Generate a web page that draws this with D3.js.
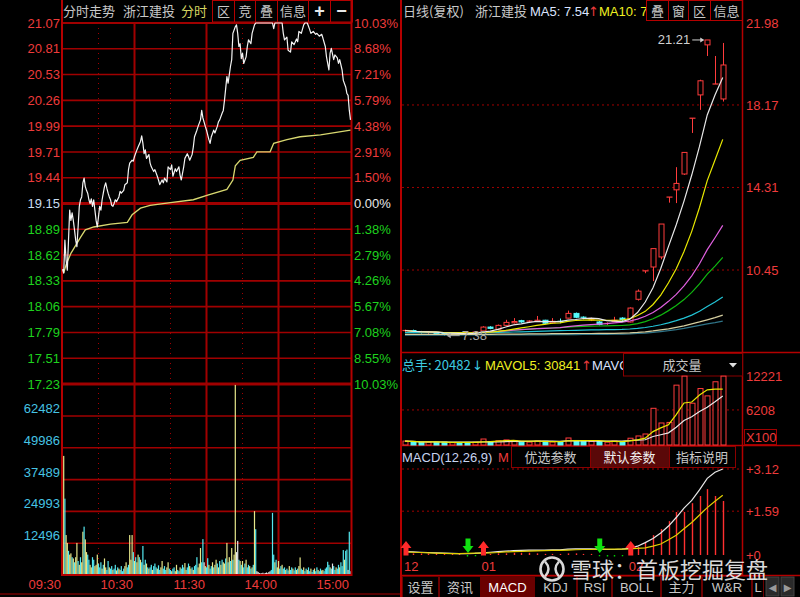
<!DOCTYPE html>
<html><head><meta charset="utf-8">
<script src="https://d3js.org/d3.v7.min.js"></script>
<style>html,body{margin:0;padding:0;background:#000;overflow:hidden}svg{display:block}</style>
</head><body>
<svg id="chart" width="800" height="597"></svg>
<script>
// ================= DATA =================
const stockName = "浙江建投";
// intraday axis ticks
const priceTicks = [21.07,20.81,20.53,20.26,19.99,19.71,19.44,19.15,18.89,18.62,18.33,18.06,17.79,17.51,17.23];
const pctTicks = ["10.03%","8.68%","7.21%","5.79%","4.38%","2.91%","1.50%","0.00%","1.38%","2.79%","4.26%","5.67%","7.08%","8.55%","10.03%"];
const volTicks = [12496,24993,37489,49986,62482];
const timeLabels = ["09:30","10:30","11:30","14:00","15:00"];
const timeLabelMinutes = [0,60,120,180,240];
// intraday price (minute index, price)
const intraMin = [
0,1,2,3,4,5,6,7,8,9, 10,11,12,13,14,15,16,17,18,19, 20,21,22,23,24,25,26,27,28,29, 30,31,32,33,34,35,36,37,38,39, 40,41,42,43,44,45,
47,48,49,51,52,54,55,56,58,59, 60,62,63,65,66,67,68,69,70,72, 73,74,76,77,79,80,81,83,84,85, 87,88,90,91,92,94,95,97,98,99,
101,102,104,105,106,108,109,110,112,113, 115,116,117,119,120,122,123,124,126,127, 129,130,131,133,134,135,137,138,140,141,
142,144,145,146,147,148,149,150,151,153, 154,155,157,158,160,161,175,176,177,183, 184,185,187,188,190,191,193,195,196,197,
199,201,202,204,206,207,209,211,212,214, 216,217,219,220,222,223,224,226,227,229, 230,231,233,234,236,237,238,239,240];
const intraPrice = [
18.45,18.41,18.76,18.55,18.44,18.76,19.08,18.97,19.05,18.97, 18.87,18.76,18.69,18.90,19.12,19.19,19.22,19.37,19.42,19.33,
19.29,19.26,19.19,19.15,19.20,19.12,19.19,19.08,18.97,18.90, 19.01,19.12,19.08,19.19,19.26,19.33,19.37,19.31,19.26,19.22,
19.19,19.13,19.12,19.15,19.19,19.17,
19.22,19.28,19.26,19.29,19.35,19.37,19.51,19.58,19.61,19.60, 19.65,19.72,19.75,19.81,19.87,19.79,19.68,19.72,19.63,19.67,
19.58,19.54,19.49,19.51,19.44,19.40,19.35,19.40,19.37,19.42, 19.38,19.54,19.51,19.56,19.44,19.52,19.49,19.54,19.45,19.40,
19.54,19.63,19.68,19.65,19.61,19.67,19.75,19.86,19.93,19.97, 20.04,20.14,20.06,19.97,19.93,19.83,19.79,19.86,19.93,19.90,
19.97,20.02,20.04,20.11,20.14,20.25,20.50,20.43,20.61,20.68, 20.96,21.03,21.05,20.96,20.82,20.85,20.69,20.75,20.64,20.71,
20.82,20.89,20.85,20.96,21.05,21.07,21.07,21.01,21.07,21.07, 20.96,20.89,20.92,20.78,20.76,20.87,20.84,20.90,20.87,20.98,
20.96,21.05,21.07,21.07,21.00,20.96,20.98,20.95,20.96,20.93, 20.95,20.91,20.82,20.71,20.57,20.75,20.80,20.68,20.73,20.70,
20.64,20.68,20.57,20.46,20.39,20.32,20.30,20.14,20.04];
// intraday average price
const avgMin = [1,3,7,15,19,26,40,54,58,65,73,90,109,121,137,142,144,148,159,162,173,176,187,198,215,240];
const avgPrice = [18.41,18.50,18.62,18.79,18.87,18.90,18.93,18.95,19.03,19.10,19.13,19.16,19.19,19.24,19.30,19.40,19.55,19.61,19.64,19.70,19.70,19.79,19.83,19.86,19.88,19.93];
// minute volume (hands), 241 minutes
const minuteVolume = [
12600,46800,30000,15700,12600,9500,8000,8500,7000,6500,
5000,7000,12600,5500,4000,7000,5000,17000,19000,14000,
9000,8000,6000,4000,3000,7000,6000,3500,4000,8000,
4500,3000,5000,2500,4000,6500,3000,2000,5500,3000,
2500,3500,2000,2500,4000,1800,3000,2500,2000,3500,
1500,2500,3500,5000,3000,4000,15700,6000,15700,9000,
5500,7000,5000,8000,7000,6000,5000,11400,4000,6000,
4500,3000,2500,3000,4000,2000,3500,4500,3000,2500,
3800,2000,3000,5500,2500,3500,2000,3000,5000,2500,
2000,1500,2500,3000,1500,4000,2000,1500,3000,2500,
4000,3000,4700,2000,3000,4500,3500,2500,3000,2000,
3500,4000,7000,3000,4500,10600,5000,14100,5000,3500,
3000,6600,4000,2500,3500,5000,3000,4000,6000,4500,
3000,5500,4000,6000,5000,4500,6500,12600,5000,7000,
5500,10600,6000,8000,74700,9000,13400,6000,5500,4000,
5500,3000,4500,6000,3000,4000,3500,2500,3000,4000,
25100,18000,1500,1200,800,600,700,900,600,800,
1000,700,1200,1500,2000,24400,8000,5000,6000,3000,
5500,2500,3500,4000,2500,3000,2000,2500,1800,3500,
2000,3000,2500,1800,3000,2000,2500,3500,6900,2500,
2000,3000,1500,2500,2000,3000,1500,2500,1200,2000,
2500,1500,3000,2000,1500,2500,1800,2000,1500,2500,
3000,5200,4000,3000,2500,4500,3500,2000,3000,2500,
4000,3000,5000,3500,9800,6000,9500,10000,2000,17000,
1500];
// tick direction per minute: u = up, d = down, e = unchanged
const minuteDir = "uuduuduudu duududuudu udduudduuu ddduduuddu ddudduduud dduudduuud uduududdud ududdudddu dduuddduud dudduuddud dduudduudu ddduuuddeu ddudduduud ududuududu duduueedud udduddudud udeeeeeeee eeeedddudu uddudduddu ddudduduud dudduddudd uddudduudd dddudeddud dudddudded d".replace(/ /g,"");

// daily K-line (42 sessions)
const dayOpen  = [7.58,7.62,7.56,7.52,7.54,7.48,7.44,7.50,7.47,7.46, 7.60,7.78,7.68,7.86,7.98,8.08,8.02,8.04,8.10,7.98, 8.05,8.20,8.42,8.24,8.10,8.02,7.92,8.04,8.20, 8.02,9.08,10.41,10.59,11.06,13.86,14.20,14.94,17.55,18.64,20.98,19.15,18.45];
const dayClose = [7.62,7.55,7.52,7.55,7.48,7.44,7.50,7.47,7.45,7.55, 7.78,7.72,7.86,8.00,8.04,8.02,8.06,8.10,7.96,8.05, 8.00,8.42,8.24,8.20,8.12,7.90,7.95,8.10,8.12, 8.67,9.46,10.41,11.45,12.60,13.86,14.50,15.95,17.55,19.30,21.21,19.15,20.04];
const dayHigh  = [7.66,7.66,7.60,7.58,7.56,7.50,7.53,7.54,7.50,7.58, 7.82,7.82,7.90,8.12,8.20,8.12,8.10,8.30,8.12,8.20, 8.18,8.55,8.46,8.28,8.22,8.06,8.00,8.26,8.24, 8.70,9.54,10.41,11.45,12.60,13.86,15.26,15.95,17.55,19.35,21.21,20.46,21.07];
const dayLow   = [7.52,7.50,7.48,7.46,7.42,7.38,7.40,7.44,7.42,7.44, 7.58,7.68,7.66,7.82,7.95,7.98,7.98,8.02,7.92,7.95, 7.96,8.18,8.20,8.14,8.06,7.86,7.88,8.02,8.06, 8.00,9.02,10.30,9.93,10.95,13.60,13.58,14.90,16.86,17.94,20.46,19.15,18.33];
const dayVolume = [700,550,450,500,480,520,420,380,450,500, 1060,600,750,900,800,500,520,700,650,550, 600,1240,800,700,650,600,500,700,600, 1200,1600,1950,6500,3900,4000,10600,12200,7400,10000,8700,11200,12200];
// long moving averages
const ma60  = [7.52,7.52,7.52,7.52,7.52,7.52,7.51,7.51,7.51,7.51, 7.52,7.52,7.53,7.54,7.55,7.56,7.57,7.58,7.59,7.60, 7.61,7.62,7.63,7.64,7.65,7.65,7.66,7.66,7.67, 7.69,7.72,7.76,7.82,7.89,7.98,8.08,8.20,8.34,8.52,8.74,8.95,9.19];
const ma120 = [7.44,7.44,7.44,7.44,7.44,7.44,7.44,7.44,7.44,7.44, 7.44,7.44,7.45,7.45,7.45,7.45,7.46,7.46,7.46,7.47, 7.47,7.47,7.48,7.48,7.48,7.49,7.49,7.49,7.50, 7.51,7.53,7.56,7.60,7.65,7.70,7.77,7.84,7.93,8.02,8.12,8.22,8.34];
const ma250 = [7.40,7.40,7.40,7.40,7.40,7.40,7.40,7.40,7.41,7.41, 7.41,7.41,7.41,7.41,7.42,7.42,7.42,7.42,7.42,7.43, 7.43,7.43,7.43,7.44,7.44,7.44,7.44,7.45,7.45, 7.46,7.48,7.50,7.53,7.57,7.61,7.66,7.72,7.79,7.86,7.93,7.99,8.06];
// MACD(12,26,9)
const difVals  = [0.12,0.11,0.10,0.09,0.08,0.07,0.06,0.05,0.05,0.06, 0.08,0.10,0.12,0.14,0.16,0.17,0.18,0.18,0.18,0.19, 0.19,0.21,0.22,0.22,0.22,0.21,0.20,0.20,0.21, 0.24,0.32,0.45,0.60,0.80,1.05,1.36,1.70,1.98,2.36,2.78,3.00,3.12];
const deaVals  = [0.11,0.10,0.09,0.08,0.07,0.06,0.05,0.05,0.06,0.07, 0.07,0.08,0.09,0.11,0.12,0.13,0.14,0.15,0.16,0.17, 0.17,0.18,0.19,0.20,0.20,0.21,0.21,0.21,0.21, 0.22,0.24,0.26,0.32,0.40,0.55,0.72,0.95,1.18,1.45,1.72,1.95,2.17];
const macdVals = [0.02,0.02,0.02,0.02,0.02,0.02,0.02,0.01,-0.02,-0.01, 0.02,0.04,0.06,0.06,0.08,0.08,0.08,0.06,0.04,0.04, 0.04,0.06,0.06,0.04,0.04,-0.01,-0.02,-0.02,-0.01, 0.08,0.30,0.47,0.72,0.94,1.23,1.56,1.56,1.88,2.14,2.39,2.14,1.96];
const signalIdx  = [0,8,10,25,29];
const signalType = ["buy","sell","buy","sell","buy"];
const monthLabels = ["12","01","02"];
const monthStart  = [0,10,29];
const kTicks = [21.98,18.17,14.31,10.45];
const dVolTicks = [12221,6208];
const macdTicks = [3.12,1.59,0];
const highLabel = 21.21, highIdx = 39;
const lowLabel = 7.38, lowIdx = 5;
const leftButtons = ["区","竞","叠","信息","+","−"];
const rightButtons = ["叠","窗","区","信息"];
const macdButtons = ["优选参数","默认参数","指标说明"];
const bottomTabs = ["设置","资讯","MACD","KDJ","RSI","BOLL","主力","W&R","L"];

// ================= DRAW =================
const svg = d3.select("#chart");
const NUM = "'Liberation Sans', Arial, sans-serif";
const CJK = "'Noto Sans CJK SC', 'Liberation Sans', sans-serif";
const RED = "#ee3b3b", GRID = "#a00000", FRAME = "#b40000", GREEN = "#1ed21e", GREY = "#c8c8c8";
svg.append("rect").attr("width",800).attr("height",597).attr("fill","#000");

function txt(g,x,y,s,fill,size,anchor,family,weight){
  return g.append("text").attr("x",x).attr("y",y).text(s).attr("fill",fill)
   .attr("font-size",size||13).attr("text-anchor",anchor||"start")
   .attr("font-family",family||NUM).attr("font-weight",weight||"normal");
}
function hline(g,x1,x2,y,color,w,dash){
  const l=g.append("line").attr("x1",x1).attr("x2",x2).attr("y1",y).attr("y2",y).attr("stroke",color).attr("stroke-width",w||1);
  if(dash) l.attr("stroke-dasharray",dash); return l;
}
function vline(g,x,y1,y2,color,w,dash){
  const l=g.append("line").attr("x1",x).attr("x2",x).attr("y1",y1).attr("y2",y2).attr("stroke",color).attr("stroke-width",w||1);
  if(dash) l.attr("stroke-dasharray",dash); return l;
}

// ---------- LEFT: intraday ----------
const L = svg.append("g");
const xT = d3.scaleLinear().domain([0,240]).range([62.5,350.5]);
const yP = d3.scaleLinear().domain([17.23,21.07]).range([384,23]);
const yTick = d3.scalePoint().domain(d3.range(priceTicks.length)).range([23,384]);
const yV = d3.scaleLinear().domain([0,62482]).range([575,416]);

// header
txt(L,63,16,"分时走势",GREY,13,"start",CJK);
txt(L,123,16,stockName,GREY,13,"start",CJK);
txt(L,181,16,"分时","#d6d660",13,"start",CJK);
const lbEdges=[212,234,255,277,308,330,352];
leftButtons.forEach((b,i)=>{
  L.append("rect").attr("x",lbEdges[i]+0.5).attr("y",0.5).attr("width",lbEdges[i+1]-lbEdges[i]).attr("height",21.5)
   .attr("fill","none").attr("stroke",FRAME).attr("stroke-width",1);
  const bold = (b==="+"||b==="−");
  txt(L,(lbEdges[i]+lbEdges[i+1])/2+0.5,bold?17:16,b,bold?"#e8e8e8":GREY,bold?18:13,"middle",bold?NUM:CJK,bold?"bold":"normal");
});

// horizontal grid
priceTicks.forEach((p,k)=>{
  const thick = (k===7||k===priceTicks.length-1);
  hline(L,62,352,yTick(k),GRID,thick?3.2:(k===0?2:1.6));
});
volTicks.forEach(v=>hline(L,62,352,yV(v),GRID,1.6));
// vertical grid
[30,60,90,120,150,180,210].forEach(m=>{
  if(m%60===0) vline(L,xT(m),23,575,GRID,2);
  else vline(L,xT(m),23,575,GRID,1,"1,4");
});
// volume bars
const dirColor = {u:"#e6e68a", d:"#55e8f0", e:"#e8e8e8"};
minuteVolume.forEach((v,i)=>{
  L.append("rect").attr("x",xT(i)-0.6).attr("y",yV(v)).attr("width",1.2).attr("height",575-yV(v))
   .attr("fill",dirColor[minuteDir[i]]);
});
// frame
vline(L,62,0,576,FRAME,2);
vline(L,351.5,0,576,FRAME,2);
hline(L,62,352,575,FRAME,2);
hline(L,0,400,594,"#700000",1.5);

// average line & price line
const avgData = avgMin.map((m,i)=>({m,p:avgPrice[i]}));
const prData = intraMin.map((m,i)=>({m,p:intraPrice[i]}));
const tl = d3.line().x(d=>xT(d.m)).y(d=>yP(d.p));
L.append("path").attr("d",tl(avgData)).attr("fill","none").attr("stroke","#d8d870").attr("stroke-width",1.3);
L.append("path").attr("d",tl(prData)).attr("fill","none").attr("stroke","#f4f4f4").attr("stroke-width",1.2).attr("stroke-linejoin","round");

// axis labels
priceTicks.forEach((p,k)=>{
  const c = k<7?RED:(k===7?"#c8dcf0":GREEN);
  txt(L,60,yTick(k)+4.6,p.toFixed(2),c,13,"end");
  const c2 = k<7?RED:(k===7?"#e8e8e8":GREEN);
  txt(L,354,yTick(k)+4.6,pctTicks[k],c2,13,"start");
});
volTicks.forEach(v=>txt(L,60,yV(v)-3,String(v),"#46c4e4",13,"end"));
timeLabels.forEach((t,i)=>txt(L,xT(timeLabelMinutes[i])-1.5,589,t,RED,13,"end"));

// ---------- RIGHT: daily ----------
const R = svg.append("g");
const xD = d3.scaleLinear().domain([0,41]).range([405,722.75]);
const yK = d3.scaleLinear().domain([10.45,21.98]).range([270,23.5]);
const yDV = d3.scaleLinear().domain([0,12221]).range([445,376]);
const yM = d3.scaleLinear().domain([0,3.12]).range([555,469]);

// header
const clipH = R.append("clipPath").attr("id","clipH");
clipH.append("rect").attr("x",401).attr("y",0).attr("width",245).attr("height",22);
const hdr = R.append("g").attr("clip-path","url(#clipH)");
txt(hdr,403,16,"日线(复权)",GREY,13,"start",CJK);
txt(hdr,475,16,stockName,GREY,13,"start",CJK);
txt(hdr,530,16,"MA5: 7.54","#dce4ff",13);
txt(hdr,588,16,"↑",RED,13,"start","DejaVu Sans");
txt(hdr,599,16,"MA10: 7.","#f0f020",13);
const rbEdges=[646,668,688,710,742];
rightButtons.forEach((b,i)=>{
  R.append("rect").attr("x",rbEdges[i]+0.5).attr("y",0.5).attr("width",rbEdges[i+1]-rbEdges[i]).attr("height",20)
   .attr("fill","none").attr("stroke",FRAME);
  txt(R,(rbEdges[i]+rbEdges[i+1])/2+0.5,16,b,GREY,13,"middle",CJK);
});

// grids
kTicks.slice(1).forEach(v=>hline(R,402,742,yK(v),GRID,1,"2,3"));
hline(R,402,742,yDV(6208),GRID,1,"2,3");
[3.12,1.59].forEach(v=>hline(R,402,742,yM(v),GRID,1,"2,3"));

// candles
const UP="#ff3c3c", DOWN="#54fcfc";
dayOpen.forEach((o,i)=>{
  const c=dayClose[i], up=c>=o, cx=Math.round(xD(i))+0.5;
  const col = up?UP:DOWN;
  vline(R,cx,yK(dayHigh[i]),yK(dayLow[i]),col,1);
  const top=yK(Math.max(o,c)), bot=yK(Math.min(o,c));
  if(bot-top<1.2){ hline(R,cx-3,cx+3,top,col,1.2); }
  else R.append("rect").attr("x",cx-2.5).attr("y",top).attr("width",5).attr("height",bot-top)
     .attr("fill",up?"#000":DOWN).attr("stroke",col).attr("stroke-width",1);
});
// moving averages
function movingAvg(arr,n){ return arr.map((_,i)=>d3.mean(arr.slice(Math.max(0,i-n+1),i+1))); }
const maSeries = [
  {v:ma250, c:"#2f7488"},
  {v:ma120, c:"#d6cfa0"},
  {v:ma60, c:"#22c4d6"},
  {v:movingAvg(dayClose,30), c:"#10b810"},
  {v:movingAvg(dayClose,20), c:"#e060e0"},
  {v:movingAvg(dayClose,10), c:"#e8e800"},
  {v:movingAvg(dayClose,5), c:"#e8e8e8"}
];
const kl = d3.line().x((d,i)=>xD(i)).y(d=>yK(d));
maSeries.forEach(s=>R.append("path").attr("d",kl(s.v)).attr("fill","none").attr("stroke",s.c).attr("stroke-width",1.2));

// annotations high/low
const hx = xD(highIdx), hy = yK(highLabel);
txt(R,hx-17,hy+4.5,highLabel.toFixed(2),"#d0d0d0",13,"end");
hline(R,hx-15,hx-4,hy,"#d0d0d0",1);
R.append("path").attr("d",`M${hx-3},${hy} l-4,-2.5 l0,5 z`).attr("fill","#d0d0d0");
const lx = xD(lowIdx)+3, ly = yK(lowLabel);
R.append("path").attr("d",`M${lx},${ly} l4,-2.5 l0,5 z`).attr("fill","#a8a8a8");
hline(R,lx+3,lx+13,ly,"#a8a8a8",1);
txt(R,lx+15,ly+4.5,lowLabel.toFixed(2),"#a8a8a8",13);

// frame lines
vline(R,401,0,597,FRAME,2);
vline(R,742.5,0,576,FRAME,1.5);
hline(R,401,800,352.5,FRAME,1.5);
hline(R,401,800,445.5,FRAME,1.5);
hline(R,401,800,575.5,FRAME,1.5);

// axis labels (k-line)
kTicks.forEach(v=>txt(R,746,yK(v)+4.6,v.toFixed(2),RED,13));

// ---------- volume panel ----------
const clipV = R.append("clipPath").attr("id","clipV");
clipV.append("rect").attr("x",401).attr("y",353).attr("width",222).attr("height",22);
const vh = R.append("g").attr("clip-path","url(#clipV)");
txt(vh,402,370,"总手: 20482","#3ccbe0",13,"start",CJK);
txt(vh,472,370,"↓","#3ccbe0",13,"start","DejaVu Sans");
txt(vh,485,370,"MAVOL5: 30841","#f0f020",13);
txt(vh,581,370,"↑",RED,13,"start","DejaVu Sans");
txt(vh,592,370,"MAVOL10: 27","#dce4ff",13);
R.append("rect").attr("x",623.5).attr("y",353.5).attr("width",119).attr("height",22.5).attr("fill","#000").attr("stroke","#8a0000");
txt(R,682,370,"成交量",GREY,13,"middle",CJK);
R.append("path").attr("d","M729,363 l8,0 l-4,4.5 z").attr("fill","#e0e0e0");

dayVolume.forEach((v,i)=>{
  const up=dayClose[i]>=dayOpen[i], cx=Math.round(xD(i))+0.5;
  R.append("rect").attr("x",cx-2.5).attr("y",yDV(v)).attr("width",5).attr("height",Math.max(1,445-yDV(v)))
   .attr("fill",up?"#000":DOWN).attr("stroke",up?UP:DOWN).attr("stroke-width",1);
});
const vl = d3.line().x((d,i)=>xD(i)).y(d=>yDV(d));
R.append("path").attr("d",vl(movingAvg(dayVolume,10))).attr("fill","none").attr("stroke","#e8e8e8").attr("stroke-width",1.2);
R.append("path").attr("d",vl(movingAvg(dayVolume,5))).attr("fill","none").attr("stroke","#e8e800").attr("stroke-width",1.2);
dVolTicks.forEach(v=>txt(R,746,yDV(v)+4.6,String(v),RED,13));
R.append("rect").attr("x",744.5).attr("y",429.5).attr("width",32).attr("height",15).attr("fill","none").attr("stroke","#a00000");
txt(R,746,442,"X100",RED,13);

// ---------- MACD panel ----------
txt(R,402,462,"MACD(12,26,9)","#c8d4f0",13);
txt(R,498,462,"M",RED,13);
const mbEdges=[511,590,669,735];
macdButtons.forEach((b,i)=>{
  R.append("rect").attr("x",mbEdges[i]+0.5).attr("y",446.5).attr("width",mbEdges[i+1]-mbEdges[i]).attr("height",21)
   .attr("fill",i===1?"#5a0808":"#000").attr("stroke","#8a0000");
  txt(R,(mbEdges[i]+mbEdges[i+1])/2,462,b,i===1?"#f0f0f0":GREY,13,"middle",CJK);
});
macdVals.forEach((v,i)=>{
  const cx=Math.round(xD(i))+0.5;
  vline(R,cx,yM(0),yM(v)+(Math.abs(yM(v)-yM(0))<1?(v>=0?-1:1):0),v>=0?"#ff3030":"#00d000",1.4);
});
const ml = d3.line().x((d,i)=>xD(i)).y(d=>yM(d));
R.append("path").attr("d",ml(difVals)).attr("fill","none").attr("stroke","#e8e8e8").attr("stroke-width",1.2);
R.append("path").attr("d",ml(deaVals)).attr("fill","none").attr("stroke","#e0d000").attr("stroke-width",1.2);
signalIdx.forEach((idx,k)=>{
  const x=xD(idx)+1;
  if(signalType[k]==="buy"){
    R.append("path").attr("d",`M${x},541 l5.5,7 l-3,0 l0,7.5 l-5,0 l0,-7.5 l-3,0 z`).attr("fill","#ff2a2a");
  } else {
    R.append("path").attr("d",`M${x},553 l5.5,-7 l-3,0 l0,-7.5 l-5,0 l0,7.5 l-3,0 z`).attr("fill","#10e010");
  }
});
macdTicks.forEach(v=>txt(R,746,yM(v)+4.6,"+"+(v===0?"0":v.toFixed(2)),RED,13));
monthLabels.forEach((m,i)=>txt(R,xD(monthStart[i])-1,571,m,RED,13));

// ---------- bottom tabs ----------
const tabEdges=[402,439,481,534,577,612,661,702,752,764];
bottomTabs.forEach((t,i)=>{
  R.append("rect").attr("x",tabEdges[i]+0.5).attr("y",576.5).attr("width",tabEdges[i+1]-tabEdges[i]-1).attr("height",21)
   .attr("fill",i===2?"#6a0000":"#000").attr("stroke","#6a0000");
  txt(R,(tabEdges[i]+tabEdges[i+1])/2,592,t,i===2?"#ffffff":GREY,13,"middle",/[A-Z&]/.test(t)?NUM:CJK);
});
[[766,"◀"],[781,"▶"]].forEach(([x,s])=>{
  R.append("rect").attr("x",x).attr("y",577).attr("width",13).attr("height",19).attr("fill","#2a2a2a").attr("stroke","#444");
  txt(R,x+6.5,591,s,"#9a9a9a",10,"middle","DejaVu Sans");
});

// ---------- watermark ----------
const W = svg.append("g").attr("opacity",0.9);
W.append("circle").attr("cx",552).attr("cy",569).attr("r",11.5).attr("fill","none").attr("stroke","#f0f0f0").attr("stroke-width",2.6);
W.append("path").attr("d","M545,561.5 Q552,569 545,576.5 M559,561.5 Q552,569 559,576.5").attr("fill","none").attr("stroke","#f0f0f0").attr("stroke-width",2.4);
txt(W,570,578,"雪球：首板挖掘复盘","#f2f2f2",22,"start",CJK);
</script></body></html>
